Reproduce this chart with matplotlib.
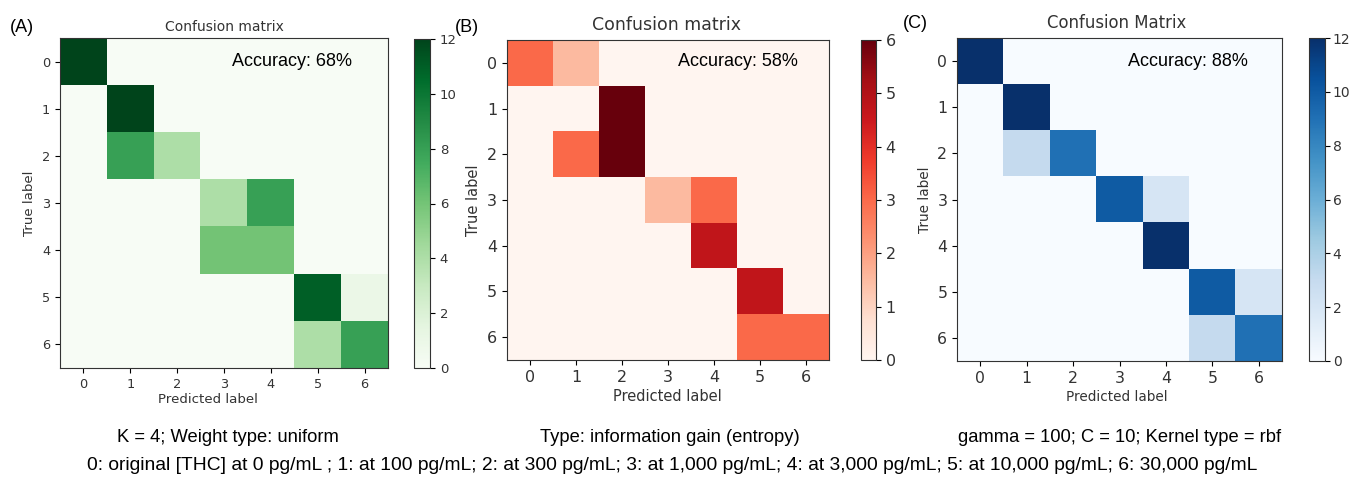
import numpy as np
import matplotlib
matplotlib.use("Agg")
import matplotlib.pyplot as plt

W, H = 1352, 482

classes = ["0", "1", "2", "3", "4", "5", "6"]

cm_knn = np.array([
    [12, 0, 0, 0, 0, 0, 0],
    [0, 12, 0, 0, 0, 0, 0],
    [0, 8, 4, 0, 0, 0, 0],
    [0, 0, 0, 4, 8, 0, 0],
    [0, 0, 0, 6, 6, 0, 0],
    [0, 0, 0, 0, 0, 11, 1],
    [0, 0, 0, 0, 0, 4, 8],
])
cm_tree = np.array([
    [3, 1.5, 0, 0, 0, 0, 0],
    [0, 0, 6, 0, 0, 0, 0],
    [0, 3, 6, 0, 0, 0, 0],
    [0, 0, 0, 1.5, 3, 0, 0],
    [0, 0, 0, 0, 4.7, 0, 0],
    [0, 0, 0, 0, 0, 4.7, 0],
    [0, 0, 0, 0, 0, 3, 3],
])
cm_svm = np.array([
    [12, 0, 0, 0, 0, 0, 0],
    [0, 12, 0, 0, 0, 0, 0],
    [0, 3, 9, 0, 0, 0, 0],
    [0, 0, 0, 10, 2, 0, 0],
    [0, 0, 0, 0, 12, 0, 0],
    [0, 0, 0, 0, 0, 10, 2],
    [0, 0, 0, 0, 0, 3, 9],
])

panel_letters = ["(A)", "(B)", "(C)"]
titles = ["Confusion matrix", "Confusion matrix", "Confusion Matrix"]
accuracies = ["Accuracy: 68%", "Accuracy: 58%", "Accuracy: 88%"]
subtitles = ["K = 4; Weight type: uniform",
             "Type: information gain (entropy)",
             "gamma = 100; C = 10; Kernel type = rbf"]
footnote = ("0: original [THC] at 0 pg/mL ; 1: at 100 pg/mL; 2: at 300 pg/mL; "
            "3: at 1,000 pg/mL; 4: at 3,000 pg/mL; 5: at 10,000 pg/mL; 6: 30,000 pg/mL")

matrices = [cm_knn, cm_tree, cm_svm]
cmaps = ["Greens", "Reds", "Blues"]
vmaxes = [12, 6, 12]

# layout in pixels (left, top, right, bottom)
ax_px = [(60, 38, 388, 368), (507, 40, 829, 360), (957, 38, 1282, 361)]
cax_px = [(414, 39, 430, 368), (861, 40, 876, 360), (1309, 38, 1325, 361)]
title_pos = [(224, 27, 10), (667, 25, 12.5), (1117, 23, 11.9)]
letter_pos = [(10, 27), (455, 27), (903, 23)]
acc_pos = [(232, 62), (678, 62), (1128, 62)]
sub_pos = [(228, 437), (670, 437), (1120, 437)]
tick_fs = [9.3, 11.5, 11.3]
cb_fs = [9.5, 11.5, 10]
lab_fs = [9.6, 10.5, 9.8]
xlab_x = [208, 667, 1117]

fig = plt.figure(figsize=(W / 100, H / 100), dpi=100)
ARIAL = "Liberation Sans"


def rect(p):
    l, t, r, b = p
    return [l / W, 1 - b / H, (r - l) / W, (b - t) / H]


for i in range(3):
    ax = fig.add_axes(rect(ax_px[i]))
    im = ax.imshow(matrices[i], cmap=cmaps[i], vmin=0, vmax=vmaxes[i],
                   interpolation="nearest", aspect="auto")
    ax.set_xticks(range(len(classes)))
    ax.set_yticks(range(len(classes)))
    ax.set_xticklabels(classes, fontsize=tick_fs[i], color="#333333")
    ax.set_yticklabels(classes, fontsize=tick_fs[i], color="#333333")
    ax.set_xlabel("Predicted label", fontsize=lab_fs[i], color="#333333")
    ax.set_ylabel("True label", fontsize=lab_fs[i], color="#333333")
    l, t, r, b = ax_px[i]
    ax.xaxis.set_label_coords((xlab_x[i] - l) / (r - l), -0.075 if i == 0 else -0.09)
    for s in ax.spines.values():
        s.set_color("#333333")
    cax = fig.add_axes(rect(cax_px[i]))
    cb = fig.colorbar(im, cax=cax)
    cb.ax.tick_params(labelsize=cb_fs[i], labelcolor="#333333",
                      pad=2 if i == 2 else 3.5)
    cb.outline.set_edgecolor("#333333")

    tx, ty, tfs = title_pos[i]
    fig.text(tx / W, 1 - ty / H, titles[i], ha="center", va="center",
             fontsize=tfs, color="#333333")
    lx, ly = letter_pos[i]
    fig.text(lx / W, 1 - ly / H, panel_letters[i], ha="left", va="center",
             fontsize=13, family=ARIAL)
    axx, axy = acc_pos[i]
    fig.text(axx / W, 1 - axy / H, accuracies[i], ha="left", va="center",
             fontsize=13, family=ARIAL)
    sx, sy = sub_pos[i]
    fig.text(sx / W, 1 - sy / H, subtitles[i], ha="center", va="center",
             fontsize=13.2, family=ARIAL)

fig.text(672 / W, 1 - 466 / H, footnote, ha="center", va="center",
         fontsize=13.9, family=ARIAL)

fig.savefig("out.png", dpi=100)
